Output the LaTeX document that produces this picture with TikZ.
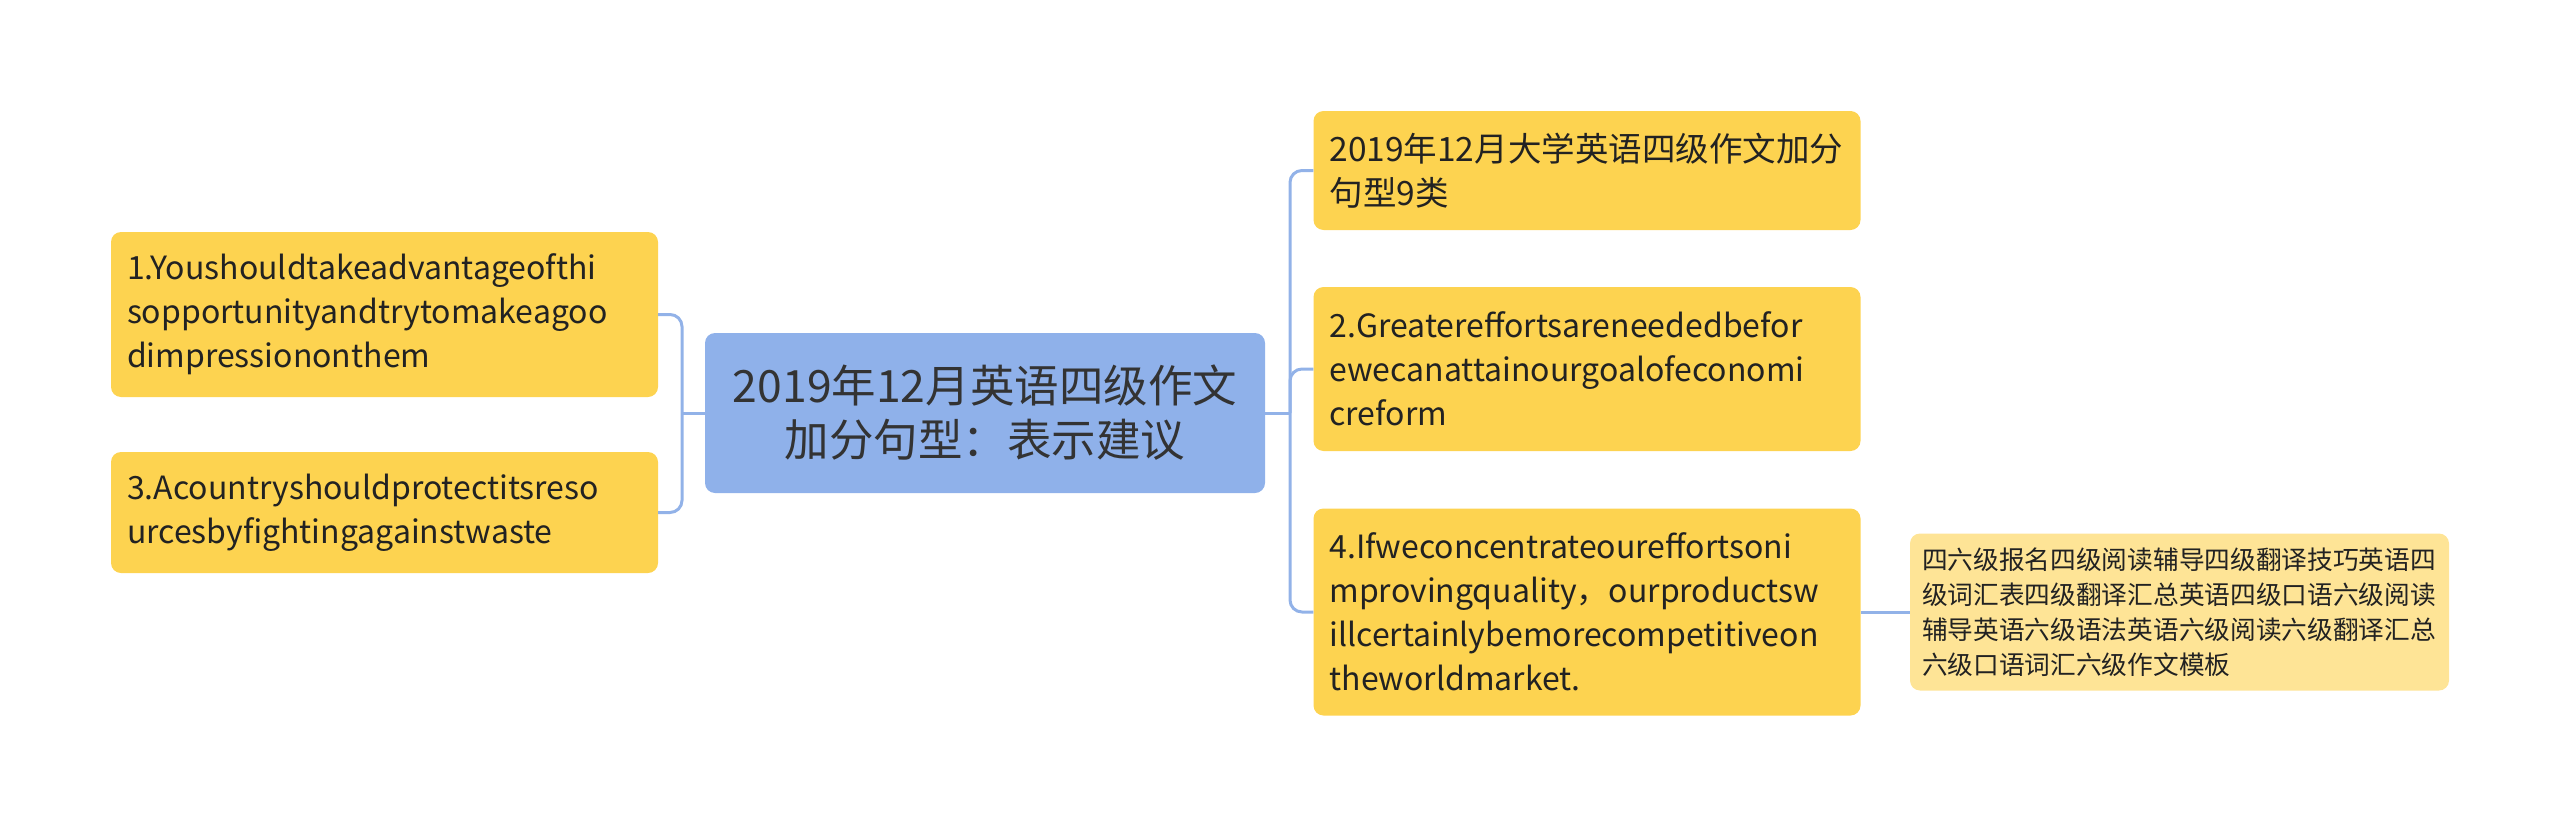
\documentclass[tikz,border=0pt]{standalone}
\usepackage{fontspec}
\setmainfont{Noto Sans CJK SC}
\usetikzlibrary{positioning}
\definecolor{topicyellow}{RGB}{253,211,80}
\definecolor{rootblue}{RGB}{143,177,234}
\definecolor{leafyellow}{RGB}{254,228,150}
\definecolor{linkblue}{RGB}{146,178,232}
\definecolor{inktext}{RGB}{34,34,34}

\begin{document}
\begin{tikzpicture}[x=1pt,y=-1pt,
  box/.style={rounded corners=10pt,inner xsep=16pt,inner ysep=0pt,text=inktext},
  rootbox/.style={box,fill=rootblue,minimum width=560pt,minimum height=160pt,
    align=center,text={rgb,255:red,51;green,51;blue,51},
    font=\fontsize{44.5}{54}\selectfont},
  topicbox/.style={box,fill=topicyellow,text width=515pt,align=left,
    font=\fontsize{33.5}{44}\selectfont},
  latin/.style={font=\fontsize{32}{44}\selectfont},
  leafbox/.style={box,fill=leafyellow,inner xsep=12pt,text width=515pt,align=left,
    minimum height=157pt,font=\fontsize{25.7}{35}\selectfont},
  link/.style={draw=linkblue,line width=3pt,rounded corners=12pt}]
  \useasboundingbox (0,0) rectangle (2560,827);

  % centre
  \node[rootbox] (root) at (985,413) {2019年12月英语四级作文\\加分句型：表示建议};

  % left side
  \node[topicbox,latin,minimum height=165pt] (t1) at (384.5,314.5)
    {1.Youshouldtakeadvantageofthi\\sopportunityandtrytomakeagoo\\dimpressiononthem};
  \node[topicbox,latin,minimum height=121pt] (t3) at (384.5,512.5)
    {3.Acountryshouldprotectitsreso\\urcesbyfightingagainstwaste};

  % right side
  \node[topicbox,minimum height=119pt] (ta) at (1587,170.5)
    {2019年12月大学英语四级作文加分\\句型9类};
  \node[topicbox,latin,minimum height=164pt] (t2) at (1587,369)
    {2.Greatereffortsareneededbefor\\ewecanattainourgoalofeconomi\\creform};
  \node[topicbox,latin,minimum height=207pt] (t4) at (1587,612)
    {4.Ifweconcentrateoureffortsoni\\mprovingquality，ourproductsw\\illcertainlybemorecompetitiveon\\theworldmarket.};
  \node[leafbox] (leaf) at (2179.5,612)
    {四六级报名四级阅读辅导四级翻译技巧英语四\\级词汇表四级翻译汇总英语四级口语六级阅读\\辅导英语六级语法英语六级阅读六级翻译汇总\\六级口语词汇六级作文模板};

  % links
  \coordinate (lj) at (682,413);
  \coordinate (rj) at (1290,413);
  \draw[link] (t1.east) -| (lj) |- (t3.east);
  \draw[link] (root.west) -- (lj);
  \draw[link] (ta.west) -| (rj) |- (t4.west);
  \draw[link] (t2.west) -| (rj);
  \draw[link] (root.east) -- (rj);
  \draw[link] (t4.east) -- (leaf.west);
\end{tikzpicture}
\end{document}
